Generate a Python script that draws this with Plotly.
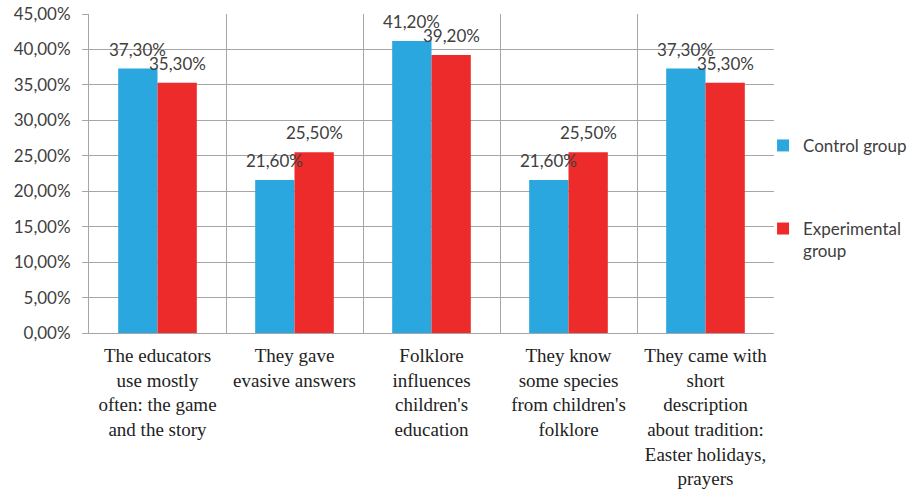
import plotly.graph_objects as go

categories = [
    "The educators<br>use mostly<br>often: the game<br>and the story",
    "They gave<br>evasive answers",
    "Folklore<br>influences<br>children's<br>education",
    "They know<br>some species<br>from children's<br>folklore",
    "They came with<br>short<br>description<br>about tradition:<br>Easter holidays,<br>prayers",
]
control = [0.373, 0.216, 0.412, 0.216, 0.373]
experimental = [0.353, 0.255, 0.392, 0.255, 0.353]
series_names = ["Control group", "Experimental<br>group"]
colors = ["#2AA7DF", "#EE2B2B"]

BARGAP = 0.426
SANS = "Lato, 'Open Sans', sans-serif"
SERIF = "'Liberation Serif', 'DejaVu Serif', serif"

fig = go.Figure()
for i, (vals, name, col) in enumerate(zip([control, experimental], series_names, colors)):
    fig.add_trace(go.Bar(
        x=categories, y=vals, name=name, marker=dict(color=col, line=dict(width=0)),
        legendgroup=f"g{i}", hoverinfo="skip",
    ))

# data labels
w = (1 - BARGAP) / 2
ann = []
for i, vals in enumerate([control, experimental]):
    off = -w / 2 if i == 0 else w / 2
    for k, v in enumerate(vals):
        ann.append(dict(
            x=k + off, y=v, xref="x", yref="y", text=f"{v*100:.2f}%".replace(".", ","),
            showarrow=False, yanchor="bottom", xanchor="center", yshift=7,
            font=dict(family=SANS, size=17, color="#404040"),
        ))

fig.update_layout(
    width=924, height=492,
    margin=dict(l=89, r=147, t=14, b=159),
    paper_bgcolor="white", plot_bgcolor="white",
    barmode="group", bargap=BARGAP, bargroupgap=0,
    separators=", ",
    annotations=ann,
    showlegend=True,
    legend=dict(
        x=0.984, xanchor="left", y=0.643, yanchor="top",
        font=dict(family=SANS, size=17, color="#404040"),
        tracegroupgap=58, valign="top", bgcolor="rgba(0,0,0,0)",
        traceorder="grouped",
    ),
    xaxis=dict(
        type="category", tickson="boundaries", showgrid=True, gridcolor="#A6A6A6", gridwidth=1,
        showline=True, linecolor="#A6A6A6", linewidth=1, ticks="", automargin=False,
        tickfont=dict(family=SERIF, size=19, color="#222222"), ticklabelstandoff=5,
        range=[-0.5, 4.5],
    ),
    yaxis=dict(
        range=[0, 0.45], dtick=0.05, tickformat=".2%", showgrid=True, gridcolor="#A6A6A6",
        gridwidth=1, showline=True, linecolor="#A6A6A6", linewidth=1, ticks="outside",
        ticklen=6, tickcolor="#A6A6A6", automargin=False, zeroline=False,
        tickfont=dict(family=SANS, size=17, color="#404040"), ticklabelstandoff=8,
    ),
)

fig.write_html("out.html")
